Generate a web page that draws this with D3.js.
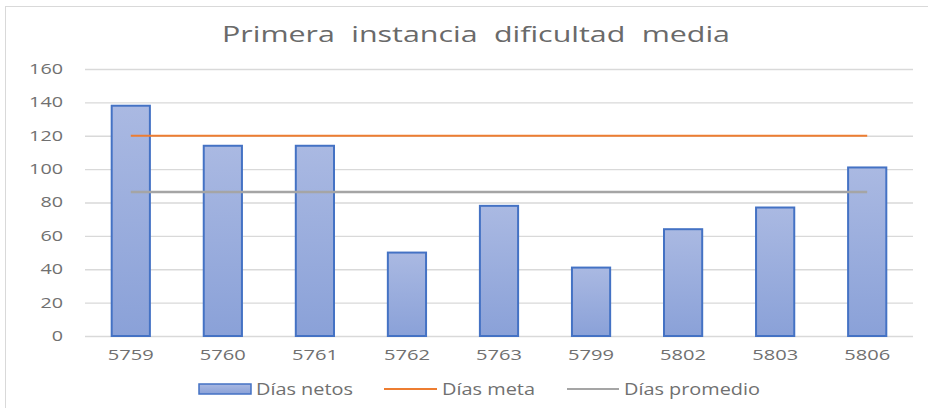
<!DOCTYPE html>
<html>
<head>
<meta charset="utf-8">
<script src="https://cdn.jsdelivr.net/npm/d3@7"></script>
<style>
  body { margin: 0; background: #fff; }
  svg { font-family: "Open Sans", "Noto Sans", sans-serif; }
</style>
</head>
<body>
<svg id="chart"></svg>
<script>
// chart data
const categories = ['5759', '5760', '5761', '5762', '5763', '5799', '5802', '5803', '5806'];
const diasNetos = [138, 114, 114, 50, 78, 41, 64, 77, 101];
const diasMeta = [120, 120, 120, 120, 120, 120, 120, 120, 120];
const diasPromedio = [86.3, 86.3, 86.3, 86.3, 86.3, 86.3, 86.3, 86.3, 86.3];
const yTicks = [0, 20, 40, 60, 80, 100, 120, 140, 160];
const seriesNames = ['Días netos', 'Días meta', 'Días promedio'];

const W = 928, H = 408;
const m = { top: 69, right: 15, bottom: 72, left: 85 };
const txt = '#707070';

const svg = d3.select('#chart').attr('width', W).attr('height', H);

// outer frame
svg.append('rect')
  .attr('x', 5.5).attr('y', 6.5)
  .attr('width', W + 10).attr('height', H + 10)
  .attr('fill', 'none').attr('stroke', '#d9d9d9');

const defs = svg.append('defs');
const grad = defs.append('linearGradient').attr('id', 'barGrad')
  .attr('x1', 0).attr('y1', 0).attr('x2', 0).attr('y2', 1);
grad.append('stop').attr('offset', '0%').attr('stop-color', '#aab9e2');
grad.append('stop').attr('offset', '100%').attr('stop-color', '#8aa1d8');

const x = d3.scaleBand().domain(categories).range([m.left, W - m.right]).paddingInner(0.585).paddingOuter(0.29);
const y = d3.scaleLinear().domain([0, 160]).range([H - m.bottom, m.top]);

svg.append('text')
  .attr('x', 222).attr('y', 42)
  .attr('fill', '#6a6a6a')
  .attr('font-size', 21.5)
  .attr('word-spacing', 6)
  .attr('textLength', 508).attr('lengthAdjust', 'spacingAndGlyphs')
  .text('Primera instancia dificultad media');

// gridlines
const yAxis = d3.axisLeft(y).tickValues(yTicks).tickSize(-(W - m.right - m.left)).tickPadding(22);
const gy = svg.append('g').attr('transform', `translate(${m.left},0)`).call(yAxis);
gy.select('.domain').remove();
gy.selectAll('.tick line').attr('stroke', '#d9d9d9').attr('stroke-width', 1.3);
gy.selectAll('.tick text').attr('fill', txt).attr('font-size', 14).attr('font-family', '"Open Sans", sans-serif')
  .attr('textLength', d => String(d).length * 11.3).attr('lengthAdjust', 'spacingAndGlyphs');

const xAxis = d3.axisBottom(x).tickSize(0).tickPadding(13);
const gx = svg.append('g').attr('transform', `translate(0,${y(0)})`).call(xAxis);
gx.select('.domain').remove();
gx.selectAll('.tick text').attr('fill', txt).attr('font-size', 15).attr('font-family', '"Open Sans", sans-serif')
  .attr('textLength', 46).attr('lengthAdjust', 'spacingAndGlyphs');

// bars
svg.selectAll('rect.bar').data(diasNetos).enter().append('rect')
  .attr('class', 'bar')
  .attr('x', (d, i) => x(categories[i]))
  .attr('y', d => y(d))
  .attr('width', x.bandwidth())
  .attr('height', d => y(0) - y(d))
  .attr('fill', 'url(#barGrad)')
  .attr('stroke', '#4472c4').attr('stroke-width', 2);

const line = d3.line()
  .x((d, i) => x(categories[i]) + x.bandwidth() / 2)
  .y(d => y(d));

svg.append('path').datum(diasMeta).attr('d', line)
  .attr('fill', 'none').attr('stroke', '#ed7d31').attr('stroke-width', 2.2);
svg.append('path').datum(diasPromedio).attr('d', line)
  .attr('fill', 'none').attr('stroke', '#a5a5a5').attr('stroke-width', 2.4);

// legend
const ly = 389;
const leg = svg.append('g');
leg.append('rect').attr('x', 199).attr('y', ly - 5).attr('width', 52).attr('height', 10)
  .attr('fill', 'url(#barGrad)').attr('stroke', '#4472c4').attr('stroke-width', 1.5);
leg.append('line').attr('x1', 384).attr('x2', 437).attr('y1', ly).attr('y2', ly)
  .attr('stroke', '#ed7d31').attr('stroke-width', 2.2);
leg.append('line').attr('x1', 567).attr('x2', 619).attr('y1', ly).attr('y2', ly)
  .attr('stroke', '#a5a5a5').attr('stroke-width', 2.2);
const legX = [256, 442, 624];
const legLen = [97, 93, 136];
leg.selectAll('text.lg').data(seriesNames).enter().append('text')
  .attr('class', 'lg')
  .attr('x', (d, i) => legX[i]).attr('y', ly + 6)
  .attr('fill', txt).attr('font-size', 16.5)
  .attr('textLength', (d, i) => legLen[i]).attr('lengthAdjust', 'spacingAndGlyphs')
  .text(d => d);
</script>
</body>
</html>
